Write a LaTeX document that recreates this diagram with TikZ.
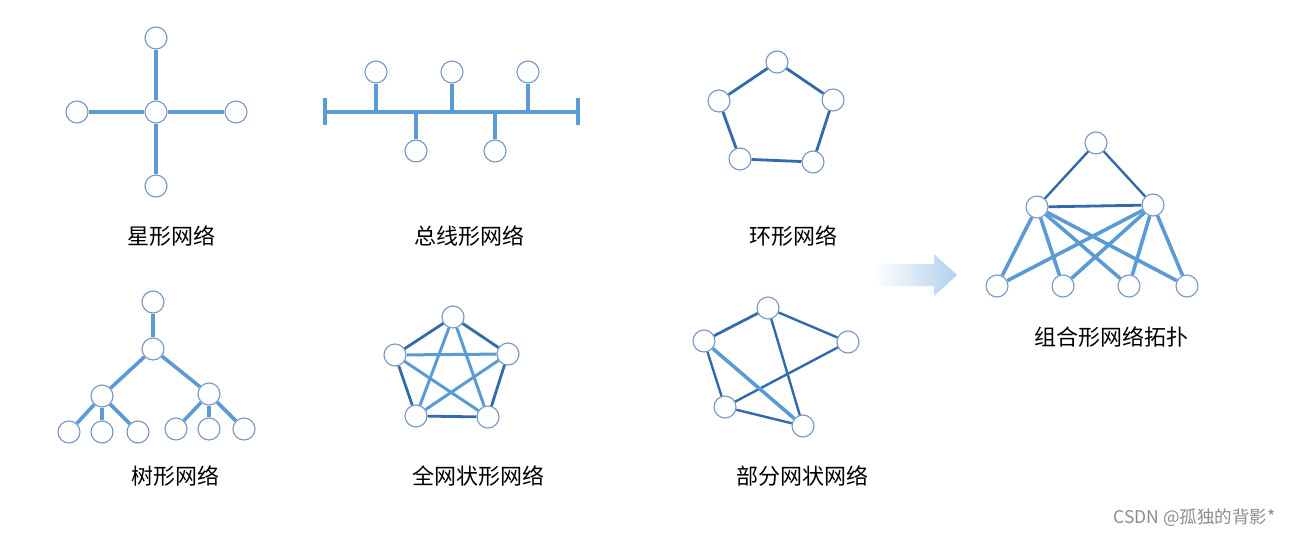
\documentclass[tikz,border=0pt]{standalone}
\usepackage{fontspec}
\newfontfamily\cjk{Noto Sans CJK SC}
\usepackage{xcolor}
\definecolor{linkblue}{RGB}{91,155,213}
\definecolor{darkblue}{RGB}{50,106,172}
\definecolor{ringgray}{RGB}{118,150,196}
\definecolor{arrowblue}{RGB}{178,208,238}

\begin{document}
\begin{tikzpicture}[
  x=1pt, y=-1pt,
  every node/.style={font=\cjk\fontsize{22}{26}\selectfont, text=black},
  nd/.style={circle, draw=ringgray, fill=white, line width=1.1pt,
             minimum size=22pt, inner sep=0pt},
  lnk/.style={draw=linkblue, line width=3.6pt},
  dlnk/.style={draw=darkblue, line width=2.8pt},
  wmark/.style={font=\cjk\fontsize{17.5}{20}\selectfont, text=black!45, anchor=east}
]
  \useasboundingbox (0,0) rectangle (1293,538);

  % star
  \node[nd] (sc) at (156,112) {};
  \node[nd] (st) at (156,38)  {};
  \node[nd] (sb) at (156,186) {};
  \node[nd] (sl) at (77,112)  {};
  \node[nd] (sr) at (236,112) {};
  \draw[lnk] (sc)--(st); \draw[lnk] (sc)--(sb); \draw[lnk] (sc)--(sl); \draw[lnk] (sc)--(sr);
  \node (lstar) at (171,236) {星形网络};

  % bus
  \coordinate (bl) at (325,112);
  \coordinate (br) at (578,112);
  \node[nd] (b1) at (376,72)  {};
  \node[nd] (b2) at (452,72)  {};
  \node[nd] (b3) at (528,72)  {};
  \node[nd] (b4) at (416,151) {};
  \node[nd] (b5) at (495,151) {};
  \draw[lnk] (bl)--(br);
  \draw[lnk] ([yshift=-13pt]bl)--([yshift=14pt]bl);
  \draw[lnk] ([yshift=-13pt]br)--([yshift=14pt]br);
  \draw[lnk] (b1)--(b1|-bl); \draw[lnk] (b2)--(b2|-bl); \draw[lnk] (b3)--(b3|-bl);
  \draw[lnk] (b4)--(b4|-bl); \draw[lnk] (b5)--(b5|-bl);
  \node (lbus) at (469,236) {总线形网络};

  % ring
  \node[nd] (r1) at (777,62)  {};
  \node[nd] (r2) at (833,100) {};
  \node[nd] (r3) at (813,162) {};
  \node[nd] (r4) at (740,159) {};
  \node[nd] (r5) at (719,101) {};
  \draw[dlnk] (r1)--(r2); \draw[dlnk] (r2)--(r3); \draw[dlnk] (r3)--(r4);
  \draw[dlnk] (r4)--(r5); \draw[dlnk] (r5)--(r1);
  \node (lring) at (793,236) {环形网络};

  % tree
  \node[nd] (t0)  at (153,302) {};
  \node[nd] (t1)  at (153,349) {};
  \node[nd] (tl)  at (102,396) {};
  \node[nd] (tr)  at (209,394) {};
  \node[nd] (tl1) at (69,432)  {};
  \node[nd] (tl2) at (102,432) {};
  \node[nd] (tl3) at (138,432) {};
  \node[nd] (tr1) at (176,429) {};
  \node[nd] (tr2) at (209,429) {};
  \node[nd] (tr3) at (244,429) {};
  \draw[lnk] (t0)--(t1); \draw[lnk] (t1)--(tl); \draw[lnk] (t1)--(tr);
  \draw[lnk] (tl)--(tl1); \draw[lnk] (tl)--(tl2); \draw[lnk] (tl)--(tl3);
  \draw[lnk] (tr)--(tr1); \draw[lnk] (tr)--(tr2); \draw[lnk] (tr)--(tr3);
  \node (ltree) at (175,476) {树形网络};

  % full mesh
  \node[nd] (f1) at (453,317) {};
  \node[nd] (f2) at (508,354) {};
  \node[nd] (f3) at (488,417) {};
  \node[nd] (f4) at (416,416) {};
  \node[nd] (f5) at (395,355) {};
  \draw[dlnk] (f1)--(f2); \draw[dlnk] (f2)--(f3); \draw[dlnk] (f3)--(f4);
  \draw[dlnk] (f4)--(f5); \draw[dlnk] (f5)--(f1);
  \draw[lnk, line width=3pt] (f1)--(f3); \draw[lnk, line width=3pt] (f1)--(f4);
  \draw[lnk, line width=3pt] (f2)--(f4); \draw[lnk, line width=3pt] (f2)--(f5);
  \draw[lnk, line width=3pt] (f3)--(f5);
  \node (lfull) at (478,476) {全网状形网络};

  % partial mesh
  \node[nd] (p1) at (768,308) {};
  \node[nd] (p2) at (848,342) {};
  \node[nd] (p3) at (803,426) {};
  \node[nd] (p4) at (725,407) {};
  \node[nd] (p5) at (704,341) {};
  \draw[dlnk] (p5)--(p1); \draw[dlnk, line width=2.4pt] (p1)--(p2);
  \draw[dlnk, line width=2.4pt] (p1)--(p3); \draw[dlnk, line width=2.4pt] (p5)--(p4);
  \draw[dlnk, line width=2.4pt] (p2)--(p4); \draw[dlnk, line width=2.4pt] (p4)--(p3);
  \draw[lnk] (p5)--(p3);
  \node (lpart) at (802,476) {部分网状网络};

  % arrow
  \shade[left color=white, right color=arrowblue]
    (873,264) -- (934,264) -- (934,254) -- (957,275) -- (934,296) -- (934,286) -- (873,286) -- cycle;

  % combined topology
  \node[nd] (c0) at (1096,143) {};
  \node[nd] (cl) at (1037,207) {};
  \node[nd] (cr) at (1153,205) {};
  \node[nd] (c1) at (997,286)  {};
  \node[nd] (c2) at (1063,286) {};
  \node[nd] (c3) at (1129,286) {};
  \node[nd] (c4) at (1187,286) {};
  \draw[dlnk, line width=2.4pt] (c0)--(cl); \draw[dlnk, line width=2.4pt] (c0)--(cr);
  \draw[dlnk] (cl)--(cr);
  \draw[lnk] (cl)--(c1); \draw[lnk] (cl)--(c2); \draw[lnk] (cl)--(c3); \draw[lnk] (cl)--(c4);
  \draw[lnk] (cr)--(c1); \draw[lnk] (cr)--(c2); \draw[lnk] (cr)--(c3); \draw[lnk] (cr)--(c4);
  \node (lcomb) at (1111,337) {组合形网络拓扑};

  \node[wmark] (wm) at (1279,518) {CSDN @孤独的背影*};
\end{tikzpicture}
\end{document}
